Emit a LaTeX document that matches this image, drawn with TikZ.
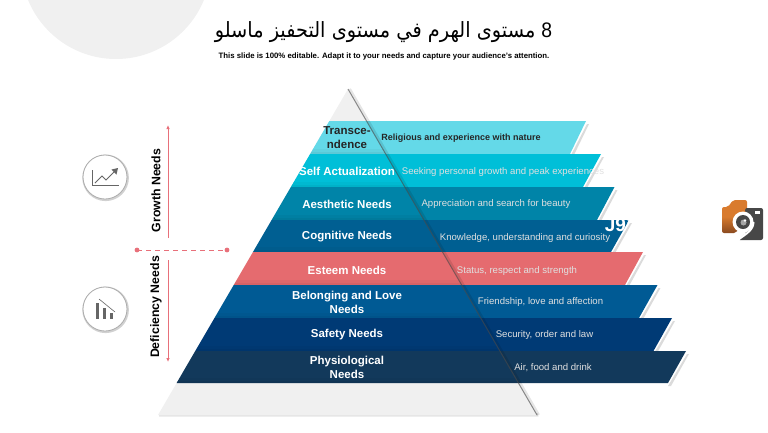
\documentclass[tikz,border=0pt]{standalone}
\usepackage{fontspec}
\setmainfont{Liberation Sans}
\newfontfamily\arabicfont[Script=Arabic]{DejaVu Sans}
\TeXXeTstate=1
\usetikzlibrary{arrows.meta}
\definecolor{paleg}{HTML}{F0F0F0}
\definecolor{bandA}{HTML}{64D9E8}
\definecolor{bandB}{HTML}{00BFD8}
\definecolor{bandC}{HTML}{0084A8}
\definecolor{bandD}{HTML}{005F92}
\definecolor{bandE}{HTML}{E56B6F}
\definecolor{bandF}{HTML}{005A94}
\definecolor{bandG}{HTML}{003A75}
\definecolor{bandH}{HTML}{12395B}
\definecolor{redline}{HTML}{E8707A}
\definecolor{icong}{HTML}{666666}
\definecolor{logoO}{HTML}{D97B2E}
\definecolor{logoB}{HTML}{8A4A20}
\definecolor{logoD}{HTML}{474747}
\tikzset{
  leftlabel/.style={font=\bfseries\fontsize{11.5}{14}\selectfont,text=white,align=center,inner sep=0pt},
  rightlabel/.style={font=\fontsize{9.6}{12}\selectfont,text=white!88!black,inner sep=0pt},
  sidelabel/.style={font=\bfseries\fontsize{12.3}{14}\selectfont,rotate=90,inner sep=0pt},
  iconring/.style={circle,draw=gray!65,line width=.8pt,fill=white,minimum size=44pt,inner sep=0pt},
  bandshadow/.style={fill=black,opacity=.14},
  redarrow/.style={draw=redline,line width=.9pt,-{Latex[length=4pt,width=3.5pt]}},
  icondraw/.style={draw=icong,line width=1.3pt}
}
\newcommand{\bandshape}[5]{% top y, bottom y, right top x, right bottom x, colour
  \fill[bandshadow] ({#3+1},{#1+3}) -- ({#3+3},{#1+3}) -- ({#4+3},{#2+3}) -- ({#4},{#2+3}) -- cycle;
  \fill[#5] ({348-.583*(#1-89)},#1) -- (#3,#1) -- (#4,#2) -- ({348-.583*(#2-89)},#2) -- cycle;
  \fill[black,opacity=.03] ({348-.583*(#2-5-89)},{#2-5}) -- ({348+.583*(#2-5-89)},{#2-5}) -- ({348+.583*(#2-89)},#2) -- ({348-.583*(#2-89)},#2) -- cycle;
  \fill[black,opacity=.04] ({348-.583*(#2-2-89)},{#2-2}) -- ({348+.583*(#2-2-89)},{#2-2}) -- ({348+.583*(#2-89)},#2) -- ({348-.583*(#2-89)},#2) -- cycle;
}
\begin{document}
\begin{tikzpicture}[x=1pt,y=-1pt]
\useasboundingbox (0,0) rectangle (768,432);
\begin{scope}
\clip (0,0) rectangle (768,432);
\fill[paleg] (116,-36) circle (95);
\end{scope}
% title
\node[inner sep=0pt,transform shape,xscale=.92,font=\arabicfont\fontsize{21}{28}\selectfont] (title) at (383.5,32) {\beginR{\fontspec{Liberation Sans}8} مستوى الهرم في مستوى التحفيز ماسلو\endR};
\node[inner sep=0pt,font=\bfseries\fontsize{7.8}{10}\selectfont] (subtitle) at (384,56) {This slide is 100\% editable. Adapt it to your needs and capture your audience's attention.};
% pyramid
\fill[black!10] (159,416.5) -- (538.5,416.5) -- (538,413) -- (159,413) -- cycle;
\fill[paleg] (348,89) -- (537,415) -- (158,415) -- cycle;
% bands
\bandshape{121}{154}{586}{570}{bandA}
\bandshape{154}{187}{601}{583}{bandB}
\bandshape{187}{220}{614.5}{597}{bandC}
\bandshape{220}{252}{629}{611}{bandD}
\bandshape{252}{285}{643}{625}{bandE}
\bandshape{285}{318}{657.5}{639}{bandF}
\bandshape{318}{351}{672}{653.5}{bandG}
\bandshape{351}{383}{686}{668}{bandH}
% pyramid right edge
\draw[black,opacity=.1,line width=3pt] (349.5,89) -- (538.5,415);
\draw[black!70,opacity=.6,line width=1pt] (348,89) -- (537,415);
% left labels
\node[leftlabel,text=black!85] (t1) at (347,138) {Transce-\\ndence};
\node[leftlabel] (t2) at (347,171) {Self Actualization};
\node[leftlabel] (t3) at (347,204) {Aesthetic Needs};
\node[leftlabel] (t4) at (347,237) {Cognitive Needs};
\node[leftlabel] (t5) at (347,270) {Esteem Needs};
\node[leftlabel] (t6) at (347,302) {Belonging and Love\\Needs};
\node[leftlabel] (t7) at (347,335) {Safety Needs};
\node[leftlabel] (t8) at (347,367) {Physiological\\Needs};
% right labels
\node[rightlabel,text=black!85,font=\bfseries\fontsize{9}{12}\selectfont] (r1) at (461,138) {Religious and experience with nature};
\node[rightlabel] (r2) at (503,172.5) {Seeking personal growth and peak experiences};
\node[rightlabel] (r3) at (496,204.5) {Appreciation and search for beauty};
\node[rightlabel] (r4) at (525,238.5) {Knowledge, understanding and curiosity};
\node[rightlabel] (r5) at (517,271.5) {Status, respect and strength};
\node[rightlabel] (r6) at (540.5,302.5) {Friendship, love and affection};
\node[rightlabel] (r7) at (544.5,335) {Security, order and law};
\node[rightlabel] (r8) at (553,368) {Air, food and drink};
% white fragment
\begin{scope}
\clip (600,219.5) rectangle (632,240);
\node[inner sep=0pt,text=white,font=\bfseries\fontsize{19}{20}\selectfont] (frag) at (618,225) {J9'};
\end{scope}
% side axis
\coordinate (upS) at (168,238);
\coordinate (upE) at (168,125);
\coordinate (dnS) at (168,260);
\coordinate (dnE) at (168,362);
\coordinate (dashL) at (137,250);
\coordinate (dashR) at (227,250);
\draw[redarrow] (upS) -- (upE);
\draw[redarrow] (dnS) -- (dnE);
\draw[redline,line width=.9pt,dash pattern=on 5pt off 4pt] (dashL) -- (dashR);
\fill[redline] (dashL) circle (2.4) (dashR) circle (2.4);
\node[sidelabel] (g) at (156,190.5) {Growth Needs};
\node[sidelabel] (d) at (156,307) {Deficiency Needs};
% icons
\fill[black!18] (105.6,177.8) circle (23.3);
\node[iconring] (ic1) at (105,177) {};
\fill[black!18] (105.6,309.8) circle (23.3);
\node[iconring] (ic2) at (105,309) {};
\draw[icondraw,line cap=butt] (92.5,170) -- (92.5,185.5) -- (119,185.5);
\draw[icondraw,line width=1pt] (95,183) -- (102,176) -- (106,180) -- (115,171);
\fill[icong] (118,168) -- (116.5,174.5) -- (111.5,169.5) -- cycle;
\fill[icong] (96,303) rectangle (99,319);
\fill[icong] (103,308) rectangle (106,319);
\fill[icong] (110,313) rectangle (113,319);
\draw[icong,line width=.6pt] (99,299) -- (115,312);
% logo
\shade[top color=logoO,bottom color=logoB,middle color=logoO,rounded corners=2pt] (722,207) -- (728,207) -- (733,200) -- (747,200) -- (747,214) -- (736,233) -- (722,233) -- cycle;
\fill[logoD,rounded corners=2pt] (745,208) -- (763,208) -- (763,240) -- (738,240) -- (747,232) -- cycle;
\fill[white] (743,222) circle (10.5);
\fill[logoD] (743,222) circle (7);
\fill[gray!70] (743.5,222.5) circle (3);
\fill[white] (745,220.5) circle (1.3);
\draw[white,line width=2pt] (753.5,222) .. controls (753.5,230) and (746,234) .. (737,240.5);
\fill[white] (755,211) rectangle (760,214);
\end{tikzpicture}
\end{document}
